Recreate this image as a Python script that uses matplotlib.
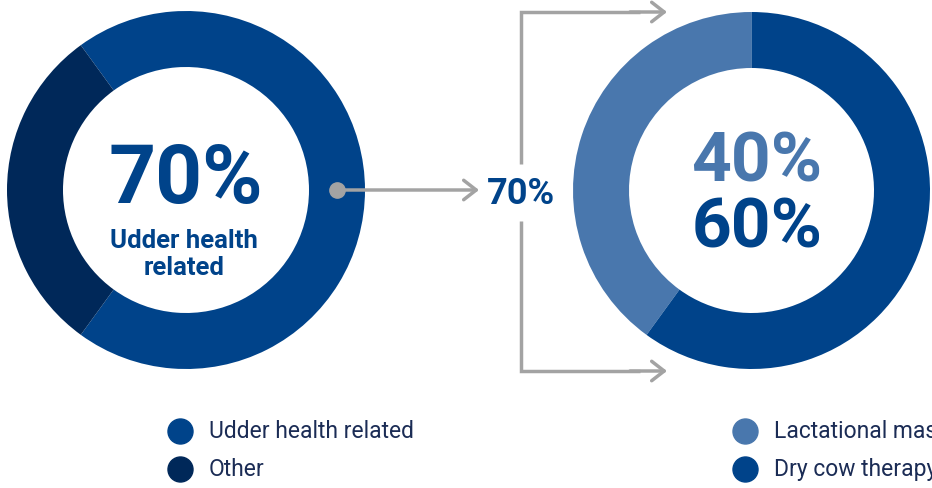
import matplotlib
matplotlib.use("Agg")
import matplotlib.pyplot as plt

plt.rcParams['font.family'] = ['Roboto', 'DejaVu Sans']

# data
left_labels = ["Udder health related", "Other"]
left_values = [70, 30]
right_labels = ["Lactational mastitis", "Dry cow therapy"]
right_values = [40, 60]
center_label = "Udder health\nrelated"

blue = "#00438A"
navy = "#002859"
light = "#4977AD"
gray = "#A3A3A3"
text_navy = "#1B2C55"

W, H = 932, 489
fig = plt.figure(figsize=(W / 100, H / 100), dpi=100)
ax = fig.add_axes([0, 0, 1, 1])

# left donut, 70% wedge centred on the right side
ax.pie(left_values, colors=[blue, navy], center=(186, H - 191), radius=179,
       startangle=-left_values[0] * 3.6 / 2, counterclock=True,
       wedgeprops=dict(width=56, linewidth=0))
# right donut, lactational wedge from the top going left
ax.pie(right_values, colors=[light, blue], center=(751.5, H - 191.5), radius=178.5,
       startangle=90, counterclock=True,
       wedgeprops=dict(width=56, linewidth=0))

ax.set_xlim(0, W)
ax.set_ylim(0, H)
ax.set_aspect('equal')
ax.axis('off')

# centre texts (baseline placed)
ax.text(186, H - 203, f"{left_values[0]}%", color=blue, fontsize=59, fontweight='bold',
        ha='center', va='baseline')
for i, line in enumerate(center_label.split("\n")):
    ax.text(184, H - (248 + 27 * i), line, color=blue, fontsize=18.5, fontweight='bold',
            ha='center', va='baseline')
ax.text(757, H - 182, f"{right_values[0]}%", color=light, fontsize=50, fontweight='bold',
        ha='center', va='baseline')
ax.text(757, H - 248, f"{right_values[1]}%", color=blue, fontsize=50, fontweight='bold',
        ha='center', va='baseline')

# connector from the left donut
ax.plot([337], [H - 191], 'o', color=gray, markersize=11)
ax.annotate('', xy=(479, H - 191), xytext=(337, H - 191),
            arrowprops=dict(arrowstyle='->,head_length=0.9,head_width=0.7',
                            color=gray, lw=2.5, shrinkA=0, shrinkB=0))
ax.text(521, H - 204, f"{left_values[0]}%", color=blue, fontsize=26, fontweight='bold',
        ha='center', va='baseline')

# bracket splitting into the right donut
ax.plot([521, 521, 640], [H - 165, H - 13, H - 13], color=gray, lw=2.5,
        solid_capstyle='butt', solid_joinstyle='miter')
ax.plot([521, 521, 640], [H - 222, H - 372, H - 372], color=gray, lw=2.5,
        solid_capstyle='butt', solid_joinstyle='miter')
for yy in (13, 372):
    ax.annotate('', xy=(667, H - yy), xytext=(630, H - yy),
                arrowprops=dict(arrowstyle='->,head_length=0.9,head_width=0.7',
                                color=gray, lw=2.5, shrinkA=0, shrinkB=0))

# legends (right one runs off the edge as in the source)
for x0, labels, cols in ((180, left_labels, [blue, navy]),
                         (745, right_labels, [light, blue])):
    for i, (lab, c) in enumerate(zip(labels, cols)):
        yy = H - (432 + 38 * i)
        ax.plot([x0], [yy], 'o', color=c, markersize=18)
        ax.text(x0 + 29, yy, lab, color=text_navy, fontsize=16.5, ha='left', va='center')

fig.savefig("out.png", dpi=100)
